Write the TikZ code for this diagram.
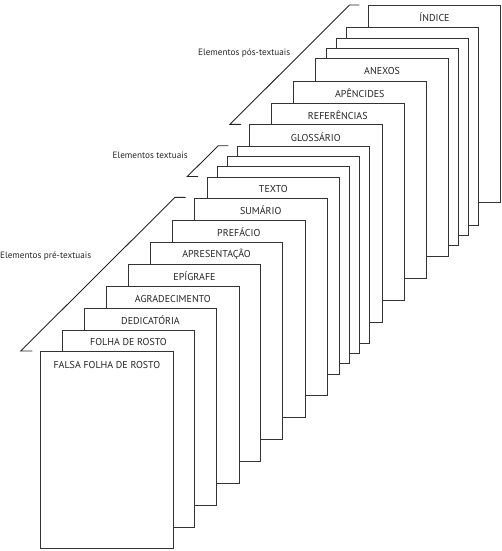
\documentclass[tikz,border=0pt]{standalone}
\usepackage{fontspec}
\setmainfont{PT Sans}
\begin{document}
\begin{tikzpicture}[x=1pt,y=-1pt,
  sheet/.style={draw=black!80, line width=0.9pt, fill=white, rectangle,
    minimum width=132.7pt, minimum height=197.3pt, inner sep=0pt, anchor=north west},
  sheetlabel/.style={font=\fontsize{10}{11}\selectfont, text=black!85, inner sep=0pt, anchor=center},
  grouplabel/.style={font=\fontsize{9.2}{10}\selectfont, text=black!85, inner sep=0pt},
  bracket/.style={draw=black!85, line width=0.9pt}]
\useasboundingbox (0,0) rectangle (502,551);
% sheets, back to front
\node[sheet] (s20) at (367.7,5) {};
\node[sheet] (s19) at (345.7,27.3) {};
\node[sheet] (s18) at (335.7,37.7) {};
\node[sheet] (s17) at (325.7,47.7) {};
\node[sheet] (s16) at (315.3,58.3) {};
\node[sheet] (s15) at (293,80.7) {};
\node[sheet] (s14) at (271,102.7) {};
\node[sheet] (s13) at (249,124.3) {};
\node[sheet] (s12) at (236.7,145.7) {};
\node[sheet] (s11) at (226.7,155.7) {};
\node[sheet] (s10) at (216.7,165.7) {};
\node[sheet] (s9) at (206.5,176.5) {};
\node[sheet] (s8) at (194,198) {};
\node[sheet] (s7) at (172,219.7) {};
\node[sheet] (s6) at (149.7,241.7) {};
\node[sheet] (s5) at (127.7,264) {};
\node[sheet] (s4) at (106,286) {};
\node[sheet] (s3) at (83.7,307.7) {};
\node[sheet] (s2) at (61.7,329.7) {};
\node[sheet] (s1) at (40,351) {};
% labels
\node[sheetlabel] (l20) at ([yshift=-12.5pt]s20.north) {ÍNDICE};
\node[sheetlabel] (l16) at ([yshift=-12.5pt]s16.north) {ANEXOS};
\node[sheetlabel] (l15) at ([yshift=-12.5pt]s15.north) {APÊNCIDES};
\node[sheetlabel] (l14) at ([yshift=-12.5pt]s14.north) {REFERÊNCIAS};
\node[sheetlabel] (l13) at ([yshift=-12.5pt]s13.north) {GLOSSÁRIO};
\node[sheetlabel] (l9) at ([yshift=-12.5pt]s9.north) {TEXTO};
\node[sheetlabel] (l8) at ([yshift=-12.5pt]s8.north) {SUMÁRIO};
\node[sheetlabel] (l7) at ([yshift=-12.5pt]s7.north) {PREFÁCIO};
\node[sheetlabel] (l6) at ([yshift=-12.5pt]s6.north) {APRESENTAÇÃO};
\node[sheetlabel] (l5) at ([yshift=-12.5pt]s5.north) {EPÍGRAFE};
\node[sheetlabel] (l4) at ([yshift=-12.5pt]s4.north) {AGRADECIMENTO};
\node[sheetlabel] (l3) at ([yshift=-12.5pt]s3.north) {DEDICATÓRIA};
\node[sheetlabel] (l2) at ([yshift=-12.5pt]s2.north) {FOLHA DE ROSTO};
\node[sheetlabel] (l1) at ([yshift=-14pt]s1.north) {FALSA FOLHA DE ROSTO};
% brackets
\coordinate (pa) at (32.3,351);
\coordinate (pb) at (20.7,351);
\coordinate (pc) at (175,197.3);
\coordinate (pd) at (185.7,197.3);
\draw[bracket] (pa) -- (pb) -- (pc) -- (pd);
\coordinate (ta) at (198,176.5);
\coordinate (tb) at (187.3,176.5);
\coordinate (tc) at (218.3,145.7);
\coordinate (td) at (228.3,145.7);
\draw[bracket] (ta) -- (tb) -- (tc) -- (td);
\coordinate (qa) at (241,124.3);
\coordinate (qb) at (230,124.3);
\coordinate (qc) at (349.5,5);
\coordinate (qd) at (359.3,5);
\draw[bracket] (qa) -- (qb) -- (qc) -- (qd);
% group labels
\node[grouplabel, anchor=west] (gpre) at (0,256) {Elementos pré-textuais};
\node[grouplabel, anchor=west] (gtxt) at (112.5,155) {Elementos textuais};
\node[grouplabel, anchor=west] (gpos) at (198,53) {Elementos pós-textuais};
\end{tikzpicture}
\end{document}
